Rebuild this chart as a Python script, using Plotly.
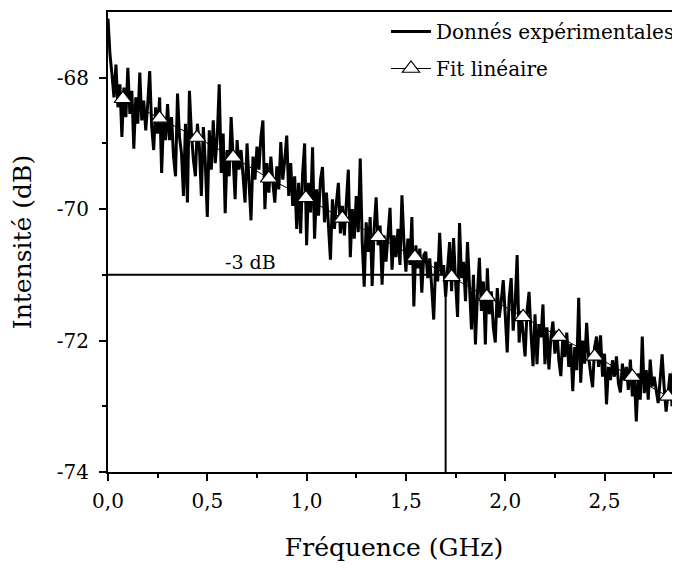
import numpy as np
import plotly.graph_objects as go

# experimental trace, one value every 0.01 GHz from 0.00 to 2.88 GHz
freq_start = 0.0
freq_stop = 2.88
intensity_db = [
    -67.10, -67.65, -67.95, -68.30, -67.80, -68.45, -68.10, -68.90, -68.15, -68.60,
    -67.85, -68.55, -68.20, -69.08, -68.30, -68.70, -67.92, -68.65, -68.35, -68.80,
    -68.40, -67.90, -68.75, -69.10, -68.45, -68.85, -68.30, -69.45, -68.60, -68.95,
    -68.40, -68.95, -68.60, -69.20, -69.50, -68.24, -68.90, -69.15, -69.80, -68.70,
    -69.90, -68.20, -68.85, -69.25, -69.50, -68.70, -69.05, -69.80, -68.75, -69.30,
    -70.12, -68.80, -69.40, -68.65, -69.30, -68.90, -68.10, -69.45, -68.85, -70.06,
    -69.10, -69.50, -68.60, -69.35, -69.85, -68.95, -69.40, -69.10, -69.55, -69.90,
    -69.00, -69.60, -70.17, -69.20, -69.55, -69.05, -69.40, -68.90, -68.65, -70.00,
    -69.30, -69.75, -69.20, -69.60, -69.90, -69.35, -69.70, -68.98, -69.55, -69.25,
    -68.88, -69.80, -69.30, -69.95, -69.50, -70.30, -69.60, -70.37, -69.45, -69.00,
    -70.55, -69.60, -70.05, -69.06, -70.45, -69.70, -70.10, -69.55, -69.36, -70.20,
    -69.75, -70.25, -70.77, -69.85, -70.30, -69.90, -69.60, -70.37, -69.95, -70.40,
    -69.90, -69.40, -70.73, -70.00, -70.45, -69.80, -70.35, -69.23, -70.50, -71.18,
    -70.20, -70.65, -70.12, -71.17, -70.30, -69.82, -70.55, -70.25, -71.15, -70.40,
    -70.80, -70.35, -69.98, -70.92, -70.40, -70.73, -70.30, -70.85, -69.79, -70.50,
    -70.95, -70.45, -70.85, -70.12, -71.48, -70.55, -70.90, -70.60, -71.27, -70.70,
    -70.65, -71.05, -70.75, -71.20, -71.68, -70.80, -71.10, -70.36, -71.00, -70.85,
    -71.33, -70.90, -70.50, -71.25, -70.44, -71.10, -71.64, -70.21, -71.05, -70.80,
    -71.40, -70.50, -71.20, -71.83, -71.00, -72.06, -71.30, -70.74, -71.55, -71.10,
    -72.06, -70.90, -71.60, -71.25, -71.80, -72.03, -71.20, -71.65, -71.40, -71.08,
    -71.60, -72.18, -71.35, -71.05, -71.85, -71.45, -70.70, -72.03, -71.55, -71.90,
    -72.24, -71.55, -71.26, -71.90, -72.39, -71.60, -72.36, -71.75, -71.95, -71.45,
    -72.36, -71.80, -72.44, -71.95, -71.71, -72.20, -71.85, -72.30, -72.54, -71.95,
    -72.25, -71.88, -72.40, -72.05, -72.77, -72.10, -72.45, -71.35, -72.64, -72.00,
    -72.35, -71.73, -72.25, -72.50, -72.71, -72.10, -71.94, -72.40, -71.92, -72.55,
    -72.20, -72.97, -72.40, -72.60, -72.30, -72.55, -72.24, -72.65, -72.79, -72.35,
    -72.60, -72.40, -72.75, -72.29, -72.85, -72.55, -73.23, -72.50, -72.90, -71.94,
    -72.80, -72.45, -72.90, -72.29, -72.70, -72.55, -72.74, -72.95, -72.60, -72.21,
    -72.70, -73.08, -72.80, -72.50, -73.00, -72.21, -73.24, -72.75, -73.05,
]

# linear fit, read at the triangle symbols
fit_freq = [0.075, 0.26, 0.448, 0.63, 0.81, 0.996, 1.18, 1.36, 1.545, 1.73,
            1.907, 2.09, 2.27, 2.45, 2.64, 2.82]
fit_db = [-68.32, -68.62, -68.91, -69.21, -69.53, -69.83, -70.14, -70.42, -70.73,
          -71.03, -71.33, -71.64, -71.94, -72.24, -72.55, -72.85]

# -3 dB cut-off
cutoff_freq = 1.70
cutoff_db = -71.0

x_ticks = [0.0, 0.5, 1.0, 1.5, 2.0, 2.5]
x_labels = ["0,0", "0,5", "1,0", "1,5", "2,0", "2,5"]
x_minor = [0.25, 0.75, 1.25, 1.75, 2.25, 2.75]
y_ticks = [-74, -72, -70, -68]
y_labels = ["-74", "-72", "-70", "-68"]
y_minor = [-73, -71, -69]

SERIF = "DejaVu Serif"

freq = np.linspace(freq_start, freq_stop, len(intensity_db))

fig = go.Figure()

fig.add_trace(go.Scatter(
    x=freq, y=intensity_db, mode="lines",
    line=dict(color="black", width=3),
    name="Donnés expérimentales", legendgroup="data",
))

fig.add_trace(go.Scatter(
    x=[0.0, cutoff_freq, cutoff_freq], y=[cutoff_db, cutoff_db, -74],
    mode="lines", line=dict(color="black", width=2),
    showlegend=False, hoverinfo="skip",
))

fig.add_trace(go.Scatter(
    x=fit_freq, y=fit_db, mode="lines+markers",
    line=dict(color="black", width=1),
    marker=dict(symbol="triangle-up", size=15, color="white",
                line=dict(color="black", width=1.2)),
    name="Fit linéaire", legendgroup="fit",
))

fig.add_annotation(
    x=0.715, y=cutoff_db, yshift=13, text="-3 dB", showarrow=False,
    font=dict(family=SERIF, size=19, color="black"),
)

# the page body has an 8 px margin, so the figure is 8 px smaller on top/left
fig.update_layout(
    width=672, height=554,
    margin=dict(l=100, r=0, t=4, b=90),
    paper_bgcolor="white", plot_bgcolor="white",
    font=dict(family=SERIF, size=17, color="black"),
    showlegend=True,
    legend=dict(x=1.0, xanchor="right", y=1.0, yanchor="top",
                bgcolor="rgba(0,0,0,0)", font=dict(size=20),
                traceorder="grouped", tracegroupgap=8, itemwidth=40),
)

fig.update_xaxes(
    range=[0, 2.88], showgrid=False, zeroline=False, automargin=False,
    showline=True, linecolor="black", linewidth=2, mirror=True,
    ticks="outside", ticklen=7, tickwidth=2, tickcolor="black",
    tickvals=x_ticks, ticktext=x_labels, tickfont=dict(size=20),
    ticklabelstandoff=3,
    minor=dict(tickvals=x_minor, ticks="outside", ticklen=4, tickwidth=2,
               tickcolor="black"),
    title=dict(text="Fréquence (GHz)", font=dict(size=25), standoff=30),
)

fig.update_yaxes(
    range=[-74, -67], showgrid=False, zeroline=False, automargin=False,
    showline=True, linecolor="black", linewidth=2,
    ticks="outside", ticklen=7, tickwidth=2, tickcolor="black",
    tickvals=y_ticks, ticktext=y_labels, tickfont=dict(size=20),
    ticklabelstandoff=6,
    minor=dict(tickvals=y_minor, ticks="outside", ticklen=4, tickwidth=2,
               tickcolor="black"),
    title=dict(text="Intensité (dB)", font=dict(size=25), standoff=18),
)

fig.write_html("out.html")
